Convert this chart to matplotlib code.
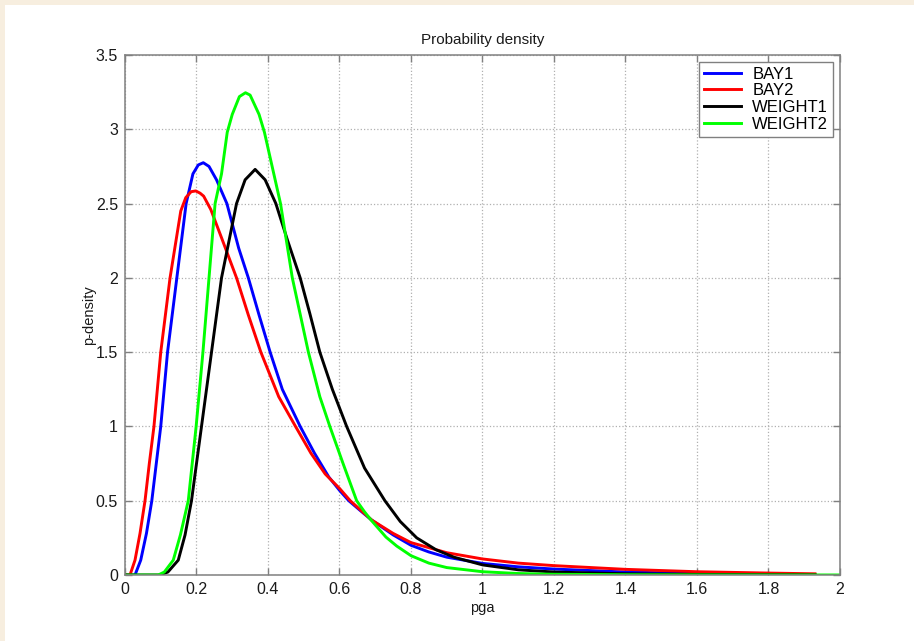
import matplotlib
matplotlib.use("Agg")
import matplotlib.pyplot as plt
from matplotlib.patches import Rectangle

plt.rcParams['font.family'] = ['Liberation Sans', 'DejaVu Sans']

# BAY1 (blue)
bay1_x = [0, 0.028, 0.044, 0.06, 0.075, 0.09, 0.100, 0.119, 0.145, 0.171, 0.19, 0.205,
          0.219, 0.235, 0.256, 0.285, 0.318, 0.345, 0.375, 0.406, 0.44, 0.49, 0.53, 0.57,
          0.60, 0.626, 0.66, 0.69, 0.75, 0.80, 0.85, 0.90, 1.0, 1.1, 1.2, 1.4, 1.6, 1.8, 1.93]
bay1_y = [0, 0, 0.1, 0.28, 0.5, 0.8, 1.0, 1.5, 2.0, 2.5, 2.7, 2.76,
          2.775, 2.75, 2.66, 2.5, 2.2, 2.0, 1.75, 1.5, 1.25, 1.0, 0.82, 0.66,
          0.57, 0.5, 0.43, 0.37, 0.27, 0.2, 0.155, 0.12, 0.078, 0.055, 0.04, 0.02, 0.01, 0.005, 0.003]

# BAY2 (red)
bay2_x = [0, 0.014, 0.028, 0.042, 0.056, 0.068, 0.081, 0.100, 0.126, 0.156, 0.17, 0.185,
          0.198, 0.21, 0.22, 0.24, 0.27, 0.312, 0.345, 0.38, 0.43, 0.477, 0.52, 0.56, 0.60,
          0.63, 0.69, 0.75, 0.8, 0.9, 1.0, 1.1, 1.2, 1.4, 1.6, 1.8, 1.93]
bay2_y = [0, 0, 0.1, 0.28, 0.5, 0.75, 1.0, 1.5, 2.0, 2.45, 2.54, 2.58,
          2.585, 2.57, 2.55, 2.46, 2.27, 2.0, 1.75, 1.5, 1.2, 1.0, 0.82, 0.68, 0.583,
          0.5, 0.37, 0.28, 0.218, 0.15, 0.108, 0.08, 0.063, 0.038, 0.022, 0.013, 0.008]

# WEIGHT1 (black)
weight1_x = [0, 0.098, 0.12, 0.149, 0.168, 0.186, 0.2, 0.214, 0.242, 0.27, 0.312, 0.336,
             0.364, 0.392, 0.422, 0.455, 0.49, 0.517, 0.545, 0.58, 0.62, 0.67, 0.727, 0.77,
             0.816, 0.87, 0.92, 1.0, 1.1, 1.2, 1.4, 1.6, 1.8, 1.93]
weight1_y = [0, 0, 0.02, 0.1, 0.27, 0.5, 0.75, 1.0, 1.5, 2.0, 2.5, 2.66,
             2.73, 2.66, 2.5, 2.25, 2.0, 1.76, 1.5, 1.25, 1.0, 0.72, 0.5, 0.36,
             0.25, 0.17, 0.12, 0.068, 0.035, 0.02, 0.008, 0.004, 0.002, 0.001]

# WEIGHT2 (green)
weight2_x = [0, 0.093, 0.11, 0.135, 0.155, 0.177, 0.199, 0.218, 0.235, 0.252, 0.27, 0.286,
             0.30, 0.32, 0.337, 0.35, 0.375, 0.39, 0.435, 0.468, 0.513, 0.545, 0.573, 0.61,
             0.648, 0.67, 0.69, 0.71, 0.73, 0.76, 0.8, 0.85, 0.9, 1.0, 1.1, 1.2, 1.4, 1.6,
             1.8, 2.0]
weight2_y = [0, 0, 0.02, 0.1, 0.27, 0.5, 1.0, 1.5, 2.0, 2.5, 2.7, 2.98,
             3.1, 3.22, 3.246, 3.23, 3.1, 2.98, 2.5, 2.0, 1.5, 1.2, 1.0, 0.75,
             0.5, 0.425, 0.365, 0.31, 0.255, 0.195, 0.13, 0.08, 0.05, 0.022, 0.01, 0.005,
             0.002, 0.001, 0.0005, 0.0002]

x_ticks = [0, 0.2, 0.4, 0.6, 0.8, 1, 1.2, 1.4, 1.6, 1.8, 2]
x_labels = ['0', '0.2', '0.4', '0.6', '0.8', '1', '1.2', '1.4', '1.6', '1.8', '2']
y_ticks = [0, 0.5, 1, 1.5, 2, 2.5, 3, 3.5]
y_labels = ['0', '0.5', '1', '1.5', '2', '2.5', '3', '3.5']

W, H = 914, 641
fig = plt.figure(figsize=(W / 100, H / 100), dpi=100, facecolor='#f7eedf')
# white panel inside the beige frame
fig.patches.append(Rectangle((5 / W, 0), 1 - 5 / W, 1 - 5 / H, transform=fig.transFigure,
                             facecolor='white', edgecolor='none', zorder=-5))

ax = fig.add_axes([125 / W, (H - 575) / H, 715 / W, 520 / H])
ax.set_zorder(2)
ax.plot(bay1_x, bay1_y, color='#0000ff', lw=2.1, label='BAY1')
ax.plot(bay2_x, bay2_y, color='#ff0000', lw=2.1, label='BAY2')
ax.plot(weight1_x, weight1_y, color='black', lw=2.1, label='WEIGHT1')
ax.plot(weight2_x, weight2_y, color='#00ff00', lw=2.1, label='WEIGHT2')

ax.set_xlim(0, 2)
ax.set_ylim(0, 3.5)
ax.set_xticks(x_ticks)
ax.set_xticklabels(x_labels)
ax.set_yticks(y_ticks)
ax.set_yticklabels(y_labels)
ax.grid(True, linestyle=':', color='#b0b0b0', linewidth=0.9)
ax.tick_params(direction='in', length=5, width=1, color='#808080', labelcolor='#1a1a1a',
               labelsize=11.5, top=True, right=True, pad=5)
for sp in ax.spines.values():
    sp.set_color('#808080')
    sp.set_linewidth(1.1)

ax.set_title('Probability density', fontsize=11, color='#1a1a1a', pad=8)
ax.set_xlabel('pga', fontsize=10.5, color='#1a1a1a', labelpad=3)
ax.set_ylabel('p-density', fontsize=10.5, color='#1a1a1a', labelpad=0)

leg = ax.legend(loc='upper right', bbox_to_anchor=(1, 1), fontsize=12,
                fancybox=False, framealpha=1, edgecolor='#808080', handlelength=2.2,
                labelspacing=0.1, borderpad=0.3, handletextpad=0.7, borderaxespad=0.4)
leg.get_frame().set_linewidth(1.0)

fig.savefig('out.png', dpi=100, facecolor=fig.get_facecolor())
